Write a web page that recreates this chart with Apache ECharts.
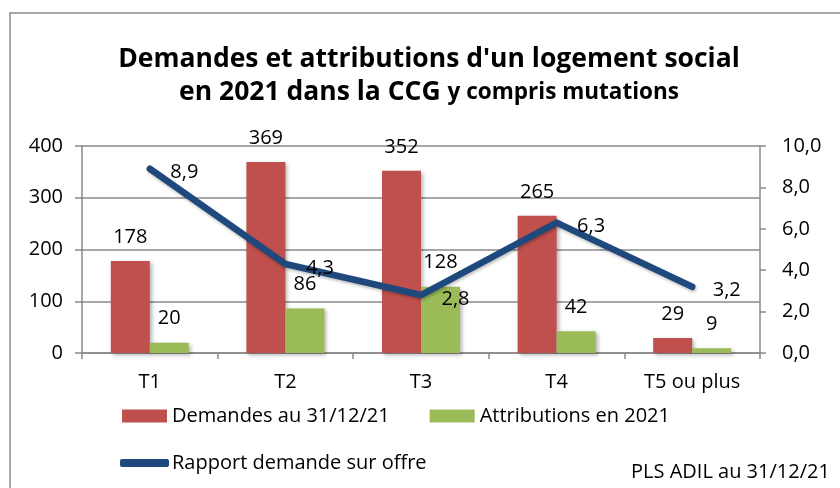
<!DOCTYPE html>
<html>
<head>
<meta charset="utf-8">
<script src="https://cdn.jsdelivr.net/npm/echarts@6/dist/echarts.min.js"></script>
<style>
  html, body { margin: 0; padding: 0; background: #fff; }
  #chart { width: 840px; height: 488px; }
</style>
</head>
<body>
<div id="chart"></div>
<script>
// Typologies de logement
const categories = ['T1', 'T2', 'T3', 'T4', 'T5 ou plus'];
// Demandes en cours au 31/12/21
const demandes = [178, 369, 352, 265, 29];
// Attributions réalisées en 2021
const attributions = [20, 86, 128, 42, 9];
// Rapport demande / offre
const rapport = [8.9, 4.3, 2.8, 6.3, 3.2];
// Graduations des deux axes
const leftTicks = [0, 100, 200, 300, 400];
const rightTicks = [0, 2, 4, 6, 8, 10];

const FONT = "'Open Sans', 'Noto Sans', sans-serif";
const RED = '#C0504D';
const GREEN = '#9BBB59';
const BLUE = '#1F497D';
const GRID = '#8a8a8a';
const frac = v => v.toFixed(1).replace('.', ',');

const chart = echarts.init(document.getElementById('chart'), null, { renderer: 'canvas' });

const barShadow = {
  shadowBlur: 4,
  shadowOffsetX: 2,
  shadowOffsetY: 2,
  shadowColor: 'rgba(0,0,0,0.3)'
};
const valueLabel = { show: true, position: 'top', distance: 14, color: '#000', fontSize: 20, fontFamily: FONT };

chart.setOption({
  animation: false,
  backgroundColor: '#ffffff',
  textStyle: { fontFamily: FONT },
  graphic: [{
    type: 'rect',
    shape: { x: 10, y: 13, width: 900, height: 600 },
    style: { fill: 'none', stroke: '#8c8c8c', lineWidth: 1.5 },
    silent: true,
    z: -10
  }, {
    type: 'text',
    x: 631,
    y: 472,
    style: { text: 'PLS ADIL au 31/12/21', font: '20px ' + FONT, fill: '#000', verticalAlign: 'middle' }
  }],
  title: {
    left: 424,
    textAlign: 'center',
    top: 38,
    text: '{a|Demandes et attributions d\'un logement social}\n{a|en 2021 dans la CCG }{b|y compris mutations}',
    textStyle: {
      rich: {
        a: { fontFamily: FONT, fontWeight: 'bold', fontSize: 26.5, lineHeight: 33, color: '#000' },
        b: { fontFamily: FONT, fontWeight: 'bold', fontSize: 22.5, lineHeight: 33, color: '#000' }
      }
    }
  },
  legend: [{
    left: 117,
    top: 401,
    itemWidth: 45,
    itemHeight: 13,
    itemGap: 40,
    icon: 'rect',
    data: ['Demandes au 31/12/21', 'Attributions en 2021'],
    textStyle: { fontFamily: FONT, fontSize: 20, color: '#000' }
  }, {
    left: 115,
    top: 448,
    itemWidth: 49,
    itemHeight: 8,
    icon: 'roundRect',
    data: ['Rapport demande sur offre'],
    textStyle: { fontFamily: FONT, fontSize: 20, color: '#000', padding: [0, 0, 0, -2] }
  }],
  grid: { left: 82, right: 80, top: 146, bottom: 135 },
  xAxis: {
    type: 'category',
    data: categories,
    axisLine: { lineStyle: { color: GRID, width: 1.5 } },
    axisTick: { show: true, length: 6, lineStyle: { color: GRID, width: 1.5 } },
    axisLabel: { color: '#000', fontSize: 20, margin: 19, fontFamily: FONT }
  },
  yAxis: [{
    type: 'value',
    min: leftTicks[0],
    max: leftTicks[leftTicks.length - 1],
    interval: 100,
    axisLine: { show: true, lineStyle: { color: GRID, width: 1.5 } },
    axisTick: { show: true, length: 7, lineStyle: { color: GRID, width: 1.5 } },
    splitLine: { lineStyle: { color: GRID, width: 1.5 } },
    axisLabel: { color: '#000', fontSize: 20, margin: 19, fontFamily: FONT }
  }, {
    type: 'value',
    position: 'right',
    min: rightTicks[0],
    max: rightTicks[rightTicks.length - 1],
    interval: 2,
    axisLine: { show: true, lineStyle: { color: GRID, width: 1.5 } },
    axisTick: { show: true, length: 6, lineStyle: { color: GRID, width: 1.5 } },
    splitLine: { show: false },
    axisLabel: { color: '#000', fontSize: 20, margin: 22, fontFamily: FONT, formatter: frac }
  }],
  series: [{
    name: 'Demandes au 31/12/21',
    type: 'bar',
    data: demandes,
    barWidth: 39,
    barGap: '0%',
    itemStyle: Object.assign({ color: RED }, barShadow),
    label: valueLabel
  }, {
    name: 'Attributions en 2021',
    type: 'bar',
    data: attributions,
    barWidth: 39,
    barGap: '0%',
    itemStyle: Object.assign({ color: GREEN }, barShadow),
    label: valueLabel
  }, {
    name: 'Rapport demande sur offre',
    type: 'line',
    yAxisIndex: 1,
    data: rapport,
    symbol: 'circle',
    symbolSize: 1,
    showSymbol: true,
    z: 5,
    itemStyle: { color: BLUE },
    lineStyle: { color: BLUE, width: 6.5, cap: 'round', join: 'round',
      shadowBlur: 3, shadowOffsetX: 1, shadowOffsetY: 2, shadowColor: 'rgba(0,0,0,0.25)' },
    label: {
      show: true,
      position: 'right',
      distance: 20,
      offset: [0, 4],
      color: '#000',
      fontSize: 20,
      fontFamily: FONT,
      formatter: p => frac(p.value)
    }
  }]
});
</script>
</body>
</html>
